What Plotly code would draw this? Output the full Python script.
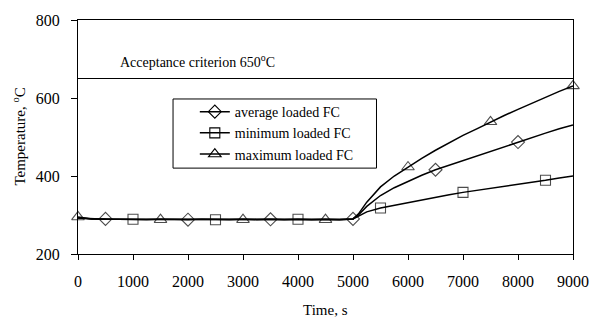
import plotly.graph_objects as go

time_s = [0, 250, 500, 750, 1000, 1250, 1500, 1750, 2000, 2250, 2500, 2750, 3000, 3250, 3500,
          3750, 4000, 4250, 4500, 4750, 5000, 5100, 5250, 5500, 5750, 6000, 6250, 6500, 6750,
          7000, 7250, 7500, 7750, 8000, 8250, 8500, 8750, 9000]

avg_temp = [292, 290, 290, 289, 289, 288, 289, 288, 288, 289, 288, 288, 289, 288, 289,
            288, 289, 288, 289, 288, 290, 300, 322, 350, 370, 387, 402, 416, 428,
            440, 451, 462, 475, 487, 498, 510, 521, 531]
min_temp = [292, 290, 289, 289, 289, 288, 288, 289, 288, 288, 288, 289, 288, 289, 288,
            288, 289, 288, 288, 289, 290, 297, 308, 318, 325, 331, 338, 345, 352,
            358, 363, 368, 373, 378, 384, 389, 395, 400]
max_temp = [295, 290, 289, 289, 288, 289, 288, 288, 289, 288, 288, 289, 288, 288, 289,
            288, 288, 289, 288, 288, 290, 303, 333, 372, 400, 423, 445, 466, 486,
            504, 521, 539, 555, 571, 587, 602, 617, 631]

avg_marks = [500, 2000, 3500, 5000, 6500, 8000]
min_marks = [1000, 2500, 4000, 5500, 7000, 8500]
max_marks = [0, 1500, 3000, 4500, 6000, 7500, 9000]

criterion = 650
x_ticks = [0, 1000, 2000, 3000, 4000, 5000, 6000, 7000, 8000, 9000]
y_ticks = [200, 400, 600, 800]

FONT = "Liberation Serif, Times New Roman, serif"

def sizes(marks, size):
    return [size if t in marks else 0 for t in time_s]

fig = go.Figure()
series = [
    ("average loaded FC", avg_temp, avg_marks, "diamond-open", 10),
    ("minimum loaded FC", min_temp, min_marks, "square-open", 10),
    ("maximum loaded FC", max_temp, max_marks, "triangle-up-open", 11),
]
for name, vals, marks, sym, sz in series:
    fig.add_trace(go.Scatter(
        x=time_s, y=vals, name=name, mode="lines+markers", showlegend=False,
        cliponaxis=False,
        line=dict(color="black", width=1.5),
        marker=dict(symbol=sym, size=sizes(marks, sz), color="black",
                    line=dict(color="black", width=1.1)),
    ))
for name, vals, marks, sym, sz in series:
    fig.add_trace(go.Scatter(
        x=[None], y=[None], name=name, mode="lines+markers", showlegend=True,
        line=dict(color="black", width=1.5),
        marker=dict(symbol=sym, size=sz, color="black",
                    line=dict(color="black", width=1.1)),
    ))

fig.add_shape(type="line", xref="paper", x0=0, x1=1, yref="y", y0=criterion, y1=criterion,
              line=dict(color="black", width=1))
fig.add_shape(type="rect", xref="paper", yref="paper", x0=0.192, x1=0.603, y0=0.367, y1=0.6625,
              line=dict(color="black", width=1), fillcolor="white", layer="below")

fig.add_annotation(x=2180, y=695, xref="x", yref="y",
                   text="Acceptance criterion 650<sup>o</sup>C", showarrow=False,
                   font=dict(family=FONT, size=14, color="black"))
fig.add_annotation(x=0.5, y=-0.24, xref="paper", yref="paper", yanchor="middle",
                   text="Time, s", showarrow=False,
                   font=dict(family=FONT, size=15, color="black"))
fig.add_annotation(x=-0.12, y=0.5, xref="paper", yref="paper", textangle=-90,
                   xanchor="center", yanchor="middle",
                   text="Temperature, <sup>o</sup>C", showarrow=False,
                   font=dict(family=FONT, size=15, color="black"))

fig.update_layout(
    width=601, height=327,
    margin=dict(l=78, r=24, t=14, b=73),
    paper_bgcolor="white", plot_bgcolor="white",
    font=dict(family=FONT, size=16, color="black"),
    showlegend=True,
    legend=dict(x=0.236, y=0.675, xanchor="left", yanchor="top",
                bgcolor="rgba(0,0,0,0)", borderwidth=0,
                font=dict(family=FONT, size=14, color="black")),
    xaxis=dict(range=[0, 9000], tickvals=x_ticks, showgrid=False, zeroline=False,
               showline=True, linecolor="black", linewidth=1, mirror=True,
               ticks="outside", ticklen=5, tickcolor="black", ticklabelstandoff=8),
    yaxis=dict(range=[200, 800], tickvals=y_ticks, showgrid=False, zeroline=False,
               showline=True, linecolor="black", linewidth=1, mirror=True,
               ticks="outside", ticklen=6, tickcolor="black", ticklabelstandoff=8),
)

fig.write_html("out.html")
